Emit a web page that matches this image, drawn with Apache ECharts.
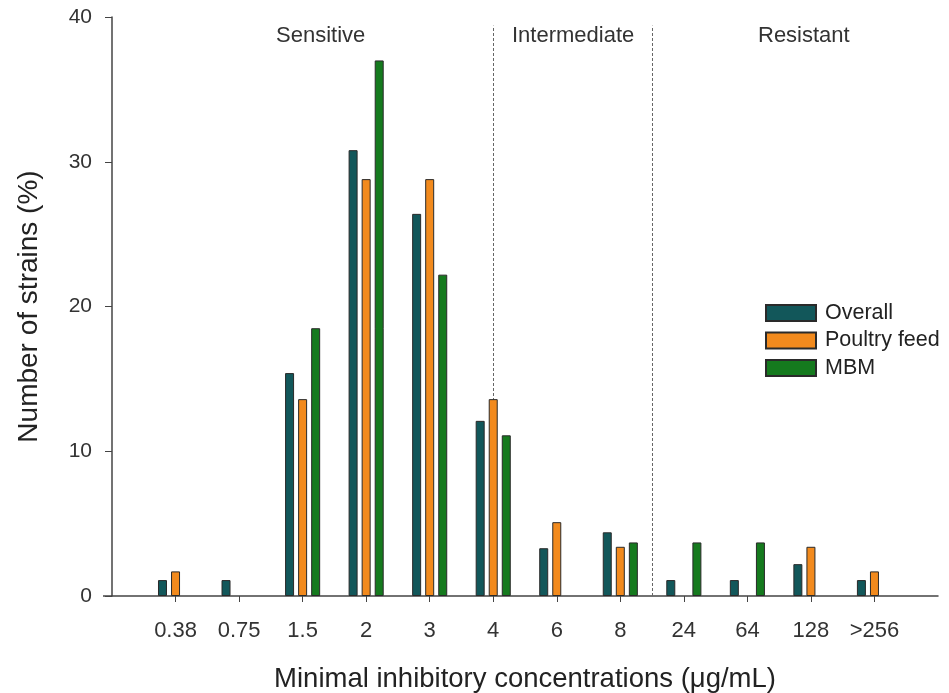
<!DOCTYPE html>
<html>
<head>
<meta charset="utf-8">
<script src="https://cdn.jsdelivr.net/npm/echarts@6/dist/echarts.min.js"></script>
<style>html,body{margin:0;padding:0;background:#fff;}#c{width:949px;height:693px;}</style>
</head>
<body>
<div id="c"></div>
<script>
const categories = ['', '0.38', '0.75', '1.5', '2', '3', '4', '6', '8', '24', '64', '128', '>256', ''];
const overall = [null, 1.1, 1.1, 15.4, 30.8, 26.4, 12.1, 3.3, 4.4, 1.1, 1.1, 2.2, 1.1, null];
const poultry = [null, 1.7, null, 13.6, 28.8, 28.8, 13.6, 5.1, 3.4, null, null, 3.4, 1.7, null];
const mbm = [null, null, null, 18.5, 37.0, 22.2, 11.1, null, 3.7, 3.7, 3.7, null, null, null];
const seriesNames = ['Overall', 'Poultry feed', 'MBM'];
const yTicks = {min: 0, max: 40, interval: 10};
// boundaries (category index positions) of the susceptibility zones
const zoneBounds = [6, 8.5];
const zoneLabels = ['Sensitive', 'Intermediate', 'Resistant'];

const font = 'Liberation Sans, Arial, sans-serif';
const colors = ['#12575a', '#f28a1d', '#157a1e'];
const chart = echarts.init(document.getElementById('c'), null, {renderer: 'canvas'});

function barSeries(name, data, color) {
  return {
    name: name, type: 'bar', data: data, barWidth: 9, barGap: '45%',
    itemStyle: {color: color, borderColor: '#2a2a2a', borderWidth: 1},
    z: 3
  };
}

chart.setOption({
  animation: false,
  textStyle: {fontFamily: font},
  grid: {left: 112, right: 11, top: 17, bottom: 97, outerBoundsMode: 'none', containLabel: false},
  legend: {
    data: seriesNames, orient: 'vertical', left: 760, top: 297,
    itemWidth: 50, itemHeight: 16, itemGap: 5.5, icon: 'rect',
    textStyle: {fontSize: 21.5, color: '#222', fontFamily: font, padding: [0, 0, 0, 4]}
  },
  xAxis: [{
    type: 'category', data: categories, boundaryGap: false,
    axisLine: {lineStyle: {color: '#444', width: 1.5}},
    axisTick: {length: 6, lineStyle: {color: '#444'}, interval: (i, v) => v !== ''},
    axisLabel: {fontSize: 22, color: '#333', margin: 24, interval: 0, fontFamily: font},
    name: 'Minimal inhibitory concentrations (\u03bcg/mL)', nameLocation: 'middle', nameGap: 69,
    nameTextStyle: {fontSize: 27.5, color: '#222', fontFamily: font},
    splitLine: {show: false}
  }, {
    type: 'value', min: 0, max: categories.length - 1, show: false
  }],
  yAxis: {
    type: 'value', min: yTicks.min, max: yTicks.max, interval: yTicks.interval,
    axisLine: {show: true, lineStyle: {color: '#444', width: 1.5}},
    axisTick: {show: true, length: 7, lineStyle: {color: '#444'}},
    axisLabel: {fontSize: 21, color: '#333', margin: 20, fontFamily: font},
    splitLine: {show: false},
    name: 'Number of strains (%)', nameLocation: 'middle', nameGap: 69,
    nameTextStyle: {fontSize: 28, color: '#222', fontFamily: font}
  },
  series: [
    barSeries(seriesNames[0], overall, colors[0]),
    barSeries(seriesNames[1], poultry, colors[1]),
    barSeries(seriesNames[2], mbm, colors[2]),
    {
      type: 'line', xAxisIndex: 1, data: [], silent: true, z: 1,
      markLine: {
        silent: true, symbol: 'none', z: 1,
        label: {show: false},
        lineStyle: {color: '#666', type: [3, 2], width: 1},
        data: zoneBounds.map(b => [{coord: [b, 0]}, {coord: [b, 39.4]}])
      }
    }
  ],
  graphic: [
    {type: 'text', left: 276, top: 25, style: {text: zoneLabels[0], font: '22px ' + font, fill: '#333'}},
    {type: 'text', left: 512, top: 25, style: {text: zoneLabels[1], font: '22px ' + font, fill: '#333'}},
    {type: 'text', left: 758, top: 25, style: {text: zoneLabels[2], font: '22px ' + font, fill: '#333'}},
    {type: 'line', shape: {x1: 103, y1: 596, x2: 112, y2: 596}, style: {stroke: '#444', lineWidth: 1.5}}
  ]
});
</script>
</body>
</html>
